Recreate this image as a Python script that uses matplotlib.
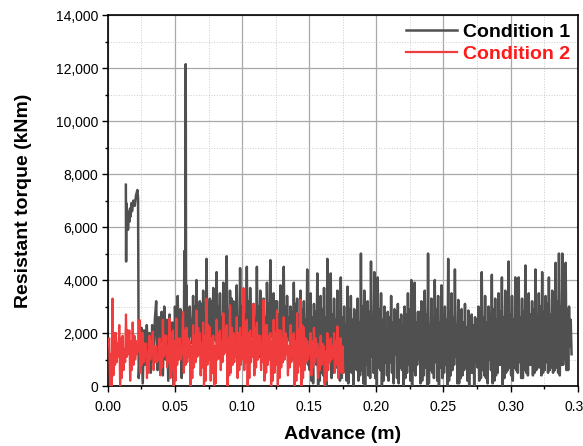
import numpy as np
import matplotlib
matplotlib.use("Agg")
import matplotlib.pyplot as plt
from matplotlib.ticker import MultipleLocator, FuncFormatter

plt.rcParams['font.family'] = ['Liberation Sans', 'DejaVu Sans']

# Condition 1: start of the record (x in m, torque in kNm)
c1_head_x = [0.0134, 0.0136, 0.0138, 0.0142, 0.0146, 0.0150, 0.0155, 0.0160, 0.0165,
             0.0170, 0.0175, 0.0180, 0.0190, 0.0200, 0.0210, 0.0220, 0.0225, 0.0230,
             0.0240, 0.0250, 0.0260, 0.0270, 0.0280, 0.0290, 0.0300, 0.0310, 0.0320,
             0.0330, 0.0340, 0.0350, 0.0360, 0.0370, 0.0380, 0.0390, 0.0400, 0.0410,
             0.0420, 0.0430, 0.0440, 0.0450, 0.0460, 0.0470, 0.0480, 0.0490, 0.0500,
             0.0510, 0.0520, 0.0530, 0.0540, 0.0550, 0.0560, 0.0565, 0.0570, 0.0575,
             0.0580, 0.0583]
c1_head_y = [7600, 4700, 6900, 6200, 6600, 5900, 6500, 6200, 6700,
             6400, 6900, 6600, 7000, 6800, 7200, 7400, 7100, 300,
             1500, 2200, 100, 2100, 800, 2300, 1200, 2000, 500,
             2300, 900, 2500, 3200, 600, 2600, 1200, 2800, 400,
             3000, 1000, 2500, 200, 2700, 900, 2400, 0, 3000,
             800, 3400, 1200, 2900, 300, 2200, 1000, 5100, 1500,
             12150, 1800]

# Condition 1 from 0.0585 m: per 2.5 mm a peak, a trough, a smaller peak and a trough (x1000 kNm)
c1_start = 0.0585
c1_step = 0.0025
c1_peaks = [3.8, 3.0, 3.4, 4.0, 3.2, 3.6, 4.8, 3.3, 3.7, 4.3, 3.5, 3.9, 4.9, 3.6, 3.2, 3.8,
            4.45, 3.4, 4.5, 3.7, 3.1, 4.5, 3.6, 3.3, 3.9, 4.75, 3.5, 3.2, 3.8, 4.5, 3.4, 3.0,
            3.9, 3.3, 3.6, 3.2, 4.4, 3.5, 3.1, 4.25, 3.4, 3.7, 4.8, 4.25, 3.3, 3.6, 4.1, 3.0,
            3.75, 3.4, 2.9, 3.3, 5.0, 3.6, 3.2, 4.7, 4.3, 4.1, 3.5, 3.0, 2.8, 3.4, 2.9, 3.1,
            2.7, 3.0, 3.5, 4.0, 3.9, 2.8, 3.2, 3.6, 5.0, 3.3, 4.0, 3.4, 3.8, 3.0, 4.8, 3.5,
            4.4, 3.25, 2.9, 3.1, 2.85, 2.7, 2.6, 3.0, 4.3, 3.4, 3.0, 4.2, 3.3, 3.5, 4.1, 3.6,
            4.7, 3.4, 4.1, 4.1, 3.3, 4.55, 3.5, 3.2, 4.4, 3.5, 4.3, 3.4, 4.1, 3.6, 4.65, 5.0,
            5.0, 4.65, 3.0]
c1_troughs = [1.4, 1.9, 1.1, 2.0, 1.5, 0.9, 1.7, 1.2, 2.1, 1.6, 1.0, 1.8, 1.3, 2.2, 1.5, 0.8,
              1.9, 1.4, 1.1, 2.0, 1.6, 1.2, 1.8, 1.0, 1.5, 2.1, 1.3, 0.9, 1.7, 1.4, 1.9, 1.1,
              1.6, 0.7, 1.3, 1.0, 0.8, 0.2, 1.0, 0.0, 0.5, 0.1, 1.2, 0.3, 0.9, 0.4,
              0.3, 0.8, 0.1, 0.5, 1.0, 0.2, 0.6, 0.0, 0.4, 1.1, 0.3, 0.7, 0.0, 0.9, 0.2, 0.5,
              1.2, 0.1, 0.6, 0.3, 0.8, 0.0, 0.4, 1.0, 0.2, 0.7, 0.1, 0.5, 0.9, 0.0, 0.3, 0.8,
              0.2, 0.6, 1.1, 0.1, 0.4, 0.7, 0.0, 0.5, 0.9, 0.2, 0.6, 0.3, 1.0, 0.1, 0.4, 0.8,
              0.0, 0.5, 0.7, 0.2, 0.6, 0.9, 0.3, 0.5, 0.8, 0.4, 0.6, 0.7, 0.5, 0.9, 0.6, 0.5,
              0.7, 0.4, 0.8, 0.6, 1.5]
c1_mid = [2.8, 2.5, 3.0, 2.7, 3.1, 2.6, 2.9, 3.2, 2.7, 3.0, 2.6, 3.1, 2.8, 3.3, 2.9, 2.6,
          3.0, 2.7, 3.2, 2.8, 2.5, 3.0, 2.9, 2.6, 3.1, 2.8, 3.2, 2.7, 2.9, 3.0, 2.6, 2.8,
          3.1, 2.7, 2.9, 2.5, 3.0, 2.6, 2.8, 2.4, 2.9, 2.6, 3.0, 2.7, 2.5, 2.8,
          2.6, 2.3, 2.9, 2.5, 2.7, 2.4, 3.0, 2.6, 2.8, 2.3, 2.7, 2.9, 2.5, 2.2, 2.6, 2.4,
          2.8, 2.5, 2.3, 2.7, 2.9, 2.6, 2.4, 2.8, 2.5, 2.7, 2.3, 2.6, 2.9, 2.4, 2.7, 2.5,
          2.8, 2.6, 2.3, 2.5, 2.4, 2.2, 2.6, 2.3, 2.5, 2.8, 2.6, 2.4, 2.7, 2.9, 2.5, 2.8,
          2.6, 3.0, 2.7, 2.5, 2.9, 2.6, 2.8, 3.0, 2.7, 2.9, 2.6, 3.0, 2.8, 3.1, 2.7, 2.9,
          3.2, 3.0, 2.8, 2.9, 2.5]
c1_low2 = [1.2, 1.6, 1.0, 1.8, 1.3, 1.1, 1.5, 0.9, 1.7, 1.4, 1.2, 1.6, 1.0, 1.9, 1.3, 1.1,
           1.7, 1.2, 1.0, 1.8, 1.4, 1.1, 1.6, 0.9, 1.3, 1.8, 1.2, 1.0, 1.5, 1.3, 1.7, 1.0,
           1.4, 0.8, 1.2, 0.9, 0.6, 0.1, 0.8, 0.2, 0.4, 0.0, 0.9, 0.5, 0.7, 0.2,
           0.5, 0.2, 0.7, 0.0, 0.6, 0.4, 0.1, 0.8, 0.3, 0.5, 0.0, 0.6, 0.2, 0.4, 0.9, 0.1,
           0.3, 0.7, 0.0, 0.5, 0.2, 0.6, 0.8, 0.1, 0.4, 0.0, 0.6, 0.3, 0.2, 0.7, 0.5, 0.0,
           0.4, 0.8, 0.1, 0.3, 0.6, 0.2, 0.5, 0.0, 0.7, 0.3, 0.4, 0.1, 0.6, 0.2, 0.5, 0.8,
           0.3, 0.6, 0.4, 0.7, 0.5, 0.3, 0.6, 0.4, 0.8, 0.5, 0.7, 0.4, 0.6, 0.5, 0.7, 0.6,
           0.5, 0.8, 1.0, 0.6, 1.2]

# Condition 2 from 0.001 m, same pattern (x1000 kNm)
c2_start = 0.001
c2_step = 0.0025
c2_peaks = [1.8, 3.3, 2.0, 2.3, 1.9, 2.7, 2.1, 2.4, 1.7, 2.5, 2.0, 1.6, 1.9, 2.05, 1.5, 1.8,
            2.5, 1.9, 2.55, 2.1, 2.55, 1.8, 2.8, 2.2, 1.7, 2.3, 2.85, 2.0, 2.4, 3.3, 2.2, 1.9,
            2.5, 2.1, 2.75, 2.3, 3.05, 2.0, 2.6, 2.2, 3.7, 2.5, 2.1, 3.1, 2.4, 1.9, 3.25, 2.3,
            2.0, 2.5, 2.85, 2.1, 2.6, 1.8, 2.3, 2.0, 2.75, 3.25, 2.2, 1.7, 2.0, 2.2, 1.6, 1.9,
            1.5, 2.0, 1.8, 2.0, 2.25, 1.8]
c2_troughs = [0.0, 0.4, 0.9, 0.0, 0.6, 1.1, 0.2, 0.8, 1.2, 0.5, 0.9, 0.3, 1.0, 0.6, 0.9, 0.4,
              1.1, 0.7, 0.3, 0.0, 0.8, 1.0, 0.5, 0.9, 0.0, 0.7, 1.1, 0.4, 0.0, 0.8, 0.2, 0.0,
              1.0, 0.6, 1.2, 0.0, 0.5, 0.9, 0.3, 0.8, 0.6, 0.0, 0.9, 0.4, 1.0, 0.6, 0.2, 0.8,
              0.0, 0.5, 0.0, 0.7, 1.0, 0.4, 0.9, 0.0, 0.5, 0.0, 0.6, 1.0, 0.4, 0.9, 0.3, 0.8,
              0.0, 0.6, 1.0, 0.5, 0.3, 0.5]
c2_mid = [1.2, 2.0, 1.6, 1.8, 1.4, 2.1, 1.7, 1.9, 1.5, 2.0, 1.6, 1.3, 1.7, 1.5, 1.2, 1.6,
          1.9, 1.5, 2.0, 1.7, 1.8, 1.4, 2.1, 1.8, 1.5, 1.9, 2.2, 1.6, 1.9, 2.3, 1.8, 1.5,
          2.0, 1.7, 2.1, 1.8, 2.2, 1.6, 2.0, 1.8, 2.4, 2.0, 1.7, 2.2, 1.9, 1.6, 2.3, 1.9,
          1.7, 2.0, 2.1, 1.8, 2.0, 1.5, 1.9, 1.7, 2.1, 2.3, 1.8, 1.5, 1.7, 1.8, 1.4, 1.6,
          1.3, 1.7, 1.5, 1.7, 1.8, 1.5]
c2_low2 = [0.0, 0.8, 1.1, 0.3, 0.9, 1.2, 0.6, 1.0, 1.3, 0.8, 1.1, 0.5, 1.2, 0.9, 1.0, 0.7,
           1.2, 0.9, 0.6, 0.2, 1.0, 1.2, 0.8, 1.1, 0.3, 0.9, 1.2, 0.7, 0.2, 1.0, 0.5, 0.1,
           1.2, 0.9, 1.3, 0.4, 0.8, 1.1, 0.6, 1.0, 0.9, 0.3, 1.1, 0.7, 1.2, 0.9, 0.5, 1.0,
           0.2, 0.8, 0.3, 0.9, 1.2, 0.7, 1.1, 0.2, 0.8, 0.3, 0.9, 1.2, 0.7, 1.1, 0.6, 1.0,
           0.2, 0.9, 1.1, 0.8, 0.6, 0.5]


def zigzag(start, step, peaks, troughs, mids, lows):
    xs, ys = [], []
    for i in range(len(peaks)):
        vals = [peaks[i], troughs[i], mids[i], lows[i]]
        for k, v in enumerate(vals):
            xs.append(start + step * (i + k / 4))
            ys.append(v * 1000)
    return xs, ys


x1, y1 = zigzag(c1_start, c1_step, c1_peaks, c1_troughs, c1_mid, c1_low2)
x1 = c1_head_x + x1
y1 = c1_head_y + y1
x2, y2 = zigzag(c2_start, c2_step, c2_peaks, c2_troughs, c2_mid, c2_low2)
x2 = [0.0] + x2
y2 = [1500] + y2

fig = plt.figure(figsize=(5.83, 4.46), dpi=100)
ax = fig.add_axes([0.185, 0.1345, 0.806, 0.8315])

ax.plot(x1, y1, color='#505050', lw=1.8, label='Condition 1', zorder=3)
ax.plot(x2, y2, color='#f03c3c', lw=1.6, label='Condition 2', zorder=4)

ax.set_xlim(0, 0.35)
ax.set_ylim(0, 14000)
ax.xaxis.set_major_locator(MultipleLocator(0.05))
ax.xaxis.set_minor_locator(MultipleLocator(0.025))
ax.yaxis.set_major_locator(MultipleLocator(2000))
ax.yaxis.set_minor_locator(MultipleLocator(1000))
ax.xaxis.set_major_formatter(FuncFormatter(lambda v, p: f'{v:.2f}'))
ax.yaxis.set_major_formatter(FuncFormatter(lambda v, p: f'{v:,.0f}'))

ax.grid(which='major', color='#a8a8a8', lw=0.9, ls='-', zorder=0)
ax.grid(which='minor', color='#cccccc', lw=0.7, ls=':', zorder=0)
ax.set_axisbelow(True)

ax.tick_params(axis='x', which='major', direction='out', length=4, width=1, labelsize=10, pad=6)
ax.tick_params(axis='y', which='major', direction='out', length=4, width=1, labelsize=10, pad=3)
ax.tick_params(which='minor', direction='out', length=2.5, width=1)
ax.tick_params(top=False, right=False)
for s in ax.spines.values():
    s.set_linewidth(1.2)

ax.set_xlabel('Advance (m)', fontsize=14, fontweight='bold', labelpad=9)
ax.set_ylabel('Resistant torque (kNm)', fontsize=14, fontweight='bold', labelpad=17)

leg = ax.legend(loc='upper right', frameon=False, prop={'weight': 'bold', 'size': 14},
                handlelength=2.6, handletextpad=0.3, borderaxespad=0.0, labelspacing=0.25)
leg.get_texts()[1].set_color('#ff1a1a')

fig.savefig('out.png', dpi=100)
